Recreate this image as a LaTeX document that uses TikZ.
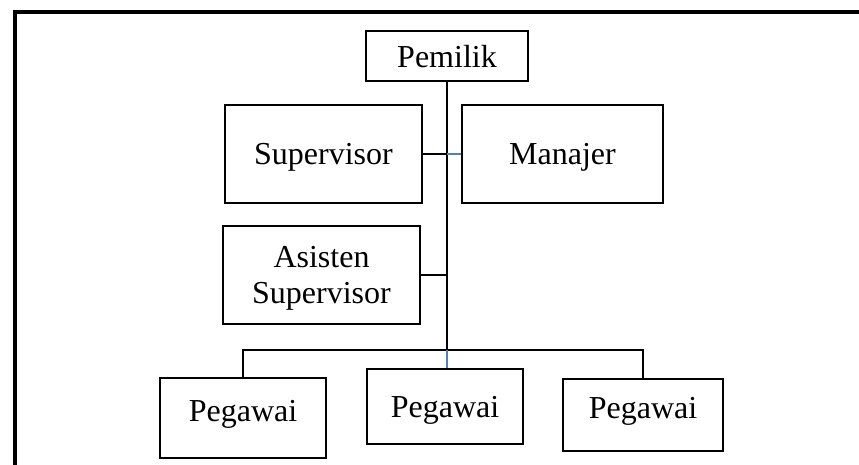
\documentclass[tikz,border=0pt]{standalone}
\usepackage{fontspec}
\setmainfont{Liberation Serif}
\usepackage{tikz}

\begin{document}
\begin{tikzpicture}[x=1pt, y=-1pt,
  kotak/.style={draw, line width=2.6pt, inner sep=0pt, align=center, text depth=0pt,
    font=\fontsize{32}{36.5}\selectfont},
  garis/.style={line width=2.4pt},
  garisbiru/.style={line width=2.4pt, draw=biru}]
\definecolor{biru}{HTML}{4F81BD}
\useasboundingbox (0, 0) rectangle (859, 465);
\draw[line width=4.5pt] (15, 465) -- (15, 12) -- (861, 12);
\node[kotak, minimum width=162, minimum height=50] (pemilik) at (447, 56) {Pemilik};
\node[kotak, minimum width=197, minimum height=98] (supervisor) at (323.5, 154) {Supervisor};
\node[kotak, minimum width=201, minimum height=98] (manajer) at (562.5, 154) {Manajer};
\node[kotak, minimum width=197, minimum height=98] (asisten) at (321.5, 275) {Asisten\\Supervisor};
\node[kotak, minimum width=166, minimum height=80, text depth=14pt] (pegawaiA) at (243, 418) {Pegawai};
\node[kotak, minimum width=156, minimum height=75] (pegawaiB) at (445, 406.5) {Pegawai};
\node[kotak, minimum width=160, minimum height=72, text depth=14pt] (pegawaiC) at (643, 415) {Pegawai};
\coordinate (cabang) at (447, 350);
\draw[line width=2.9pt] (pemilik.south) -- (pemilik.south |- cabang);
\draw[garis] (supervisor.east) -- (supervisor.east -| cabang);
\draw[garisbiru] (manajer.west) -- (manajer.west -| cabang);
\draw[garis] (asisten.east) -- (asisten.east -| cabang);
\draw[garis] (pegawaiA.north) |- (cabang);
\draw[garis] (pegawaiC.north) |- (cabang);
\draw[garisbiru] (cabang) -- (cabang |- pegawaiB.north);
\end{tikzpicture}
\end{document}
